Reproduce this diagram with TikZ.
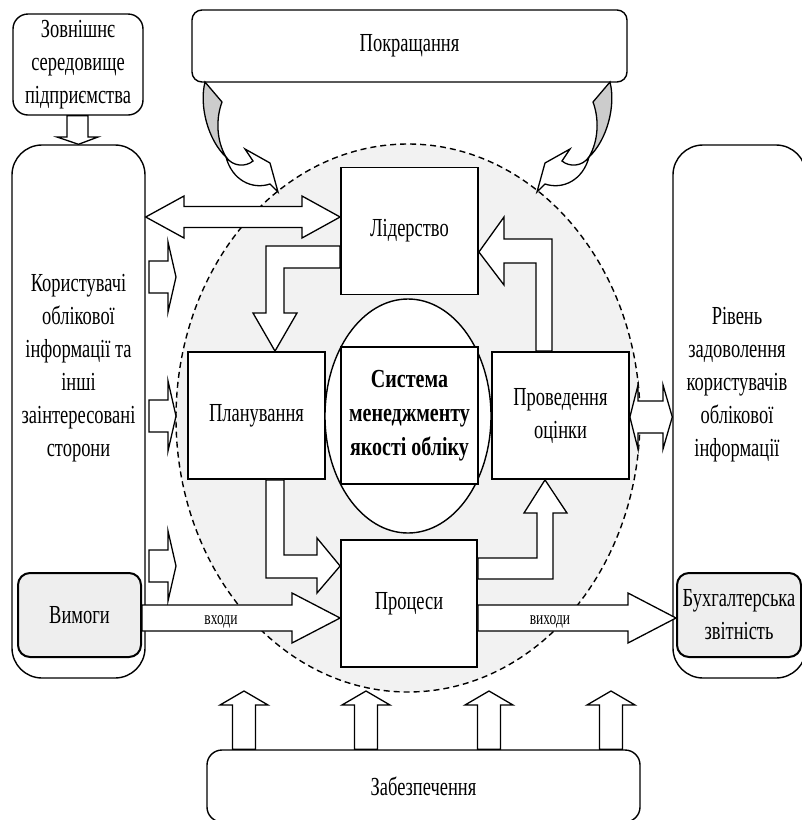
\documentclass[tikz,border=0pt]{standalone}
\usepackage{fontspec}
\setmainfont{Liberation Serif}[FakeStretch=0.71]
\newfontfamily\corefont{Liberation Serif}[FakeStretch=0.77]
\usetikzlibrary{calc,shapes.geometric}
\definecolor{bggray}{HTML}{F2F2F2}
\definecolor{boxgray}{HTML}{EEEEEE}
\definecolor{curvegray}{HTML}{CCCCCC}
\tikzset{
  txt/.style={font=\fontsize{26}{33}\selectfont, align=center, inner sep=0pt},
  sqbox/.style={txt, draw, line width=1.8pt, fill=white, minimum width=137pt, minimum height=127pt},
  rbox/.style={txt, draw, line width=1.4pt, fill=white},
  graybox/.style={txt, draw, line width=2pt, fill=boxgray, rounded corners=12pt},
  blockarrow/.style={draw, line width=1.3pt, fill=white, line join=miter},
  curvefill/.style={draw, line width=1.3pt, fill=curvegray, line join=miter},
  smalltxt/.style={font=\fontsize{19}{22}\selectfont, inner sep=0pt},
}
\begin{document}
\begin{tikzpicture}[x=1pt,y=-1pt]
\useasboundingbox (0,0) rectangle (802,820);
% dashed system area
\node[ellipse, draw, dash pattern=on 6pt off 4pt, line width=1.4pt, fill=bggray,
      minimum width=464pt, minimum height=548pt, inner sep=0pt] (area) at (408,418) {};

% outer boxes
\node[rbox, rounded corners=15pt, minimum width=130pt, minimum height=101pt] (env) at (78,64.5) {Зовнішнє\\середовище\\підприємства};
\node[rbox, rounded corners=30pt, minimum width=133pt, minimum height=533pt] (users) at (78.5,411.5) {};
\node[txt] (userstxt) at (78.5,368) {Користувачі\\облікової\\інформації та\\інші\\заінтересовані\\сторони};
\node[graybox, minimum width=123pt, minimum height=84pt] (vym) at (79.5,615) {Вимоги};
\node[rbox, rounded corners=10pt, minimum width=435pt, minimum height=72pt] (impr) at (409.5,46) {Покращання};
\node[rbox, rounded corners=30pt, minimum width=133pt, minimum height=533pt] (outcome) at (739.5,411.5) {};
\node[txt] (outtxt) at (737,385) {Рівень\\задоволення\\користувачів\\облікової\\інформації};
\node[graybox, minimum width=124pt, minimum height=84pt] (rep) at (739,615) {Бухгалтерська\\звітність};
\node[rbox, rounded corners=15pt, minimum width=433pt, minimum height=72pt] (supp) at (423.5,786) {Забезпечення};

% inner boxes
\node[sqbox] (lid) at (409.5,231) {Лідерство};
\node[sqbox] (plan) at (256.5,415.5) {Планування};
\node[ellipse, draw, line width=1.4pt, fill=white, minimum width=166pt, minimum height=234pt, inner sep=0pt] (coreell) at (408,416) {};
\node[sqbox, minimum height=137pt, font=\corefont\fontsize{26}{34}\selectfont\bfseries] (core) at (409.5,415.5) {Система\\менеджменту\\якості обліку};
\node[sqbox] (eval) at (560.5,415.5) {Проведення\\оцінки};
\node[sqbox, minimum width=136pt] (proc) at (409,603.5) {Процеси};

% env -> users
\draw[blockarrow] (env.south -| 67,0) -- (67,137) -- (57,137) -- (users.north) -- (98,137) -- (88,137) -- (env.south -| 88,0) -- cycle;

% users <-> lid
\draw[blockarrow] (users.east |- 0,217) -- (184,196) -- (184,206.5) -- (302,206.5) -- (302,196) -- (lid.west |- 0,217)
  -- (302,238) -- (302,227.5) -- (184,227.5) -- (184,238) -- cycle;

% users -> area (three narrow arrows)
\foreach \ay in {277,416,566} {
  \draw[blockarrow] (149,\ay-16) -- (168,\ay-16) -- (168,\ay-35) -- (176,\ay) -- (168,\ay+35) -- (168,\ay+16) -- (149,\ay+16) -- cycle;
}

% lid -> plan
\draw[blockarrow] (lid.west |- 0,246) -- (266,246) -- (266,313) -- (253,313) -- (plan.north -| 275,0) -- (297,313) -- (284,313) -- (284,268) -- (lid.west |- 0,268) -- cycle;

% plan -> proc
\draw[blockarrow] (plan.south -| 266,0) -- (266,578) -- (317,578) -- (317,593) -- (proc.west |- 0,566) -- (317,538) -- (317,555) -- (284,555) -- (plan.south -| 284,0) -- cycle;

% proc -> eval
\draw[blockarrow] (proc.east |- 0,558) -- (537,558) -- (537,513) -- (524,513) -- (eval.south -| 545,0) -- (567,513) -- (553,513) -- (553,579) -- (proc.east |- 0,579) -- cycle;

% eval -> lid
\draw[blockarrow] (eval.north -| 536,0) -- (536,263) -- (504,263) -- (504,285) -- (lid.east |- 0,252) -- (504,217) -- (504,239) -- (552,239) -- (eval.north -| 552,0) -- cycle;

% eval <-> outcome
\draw[blockarrow] (eval.east |- 0,417) -- (638,385) -- (638,401) -- (663,401) -- (663,385) -- (outcome.west |- 0,417)
  -- (663,449) -- (663,433) -- (638,433) -- (638,449) -- cycle;

% vym -> proc (inputs)
\draw[blockarrow] (vym.east |- 0,605) -- (292,605) -- (292,593) -- (proc.west |- 0,618) -- (292,643) -- (292,631) -- (vym.east |- 0,631) -- cycle;
\node[smalltxt] (inlbl) at (221,622) {входи};

% proc -> rep (outputs)
\draw[blockarrow] (proc.east |- 0,605) -- (628,605) -- (628,593) -- (rep.west |- 0,618) -- (628,643) -- (628,631) -- (proc.east |- 0,631) -- cycle;
\node[smalltxt] (outlbl) at (550,622) {виходи};

% supp -> area (four up arrows)
\foreach \ux in {244,366,489,611} {
  \pgfmathsetmacro\xa{\ux-11.5}
  \pgfmathsetmacro\xb{\ux+11.5}
  \pgfmathsetmacro\xc{\ux-24}
  \pgfmathsetmacro\xd{\ux+24}
  \draw[blockarrow] (supp.north -| \xa,0) -- (\xa,705) -- (\xc,705) -- (\ux,691) -- (\xd,705) -- (\xb,705) -- (supp.north -| \xb,0) -- cycle;
}

% curved arrows from impr
\foreach \sx/\sc in {0/1,815/-1} {
  \begin{scope}[xshift=\sx pt, xscale=\sc]
    \draw[curvefill] (205,82) -- (222,102) .. controls (216,118) and (216,140) .. (226,157)
      .. controls (208,140) and (199,106) .. (205,82) -- cycle;
    \draw[blockarrow] (226,157) .. controls (233,167) and (246,167) .. (253,161) -- (245,149) -- (270,163) -- (278,192) -- (270,184)
      .. controls (252,190) and (232,180) .. (226,157) -- cycle;
  \end{scope}
}
\end{tikzpicture}
\end{document}
